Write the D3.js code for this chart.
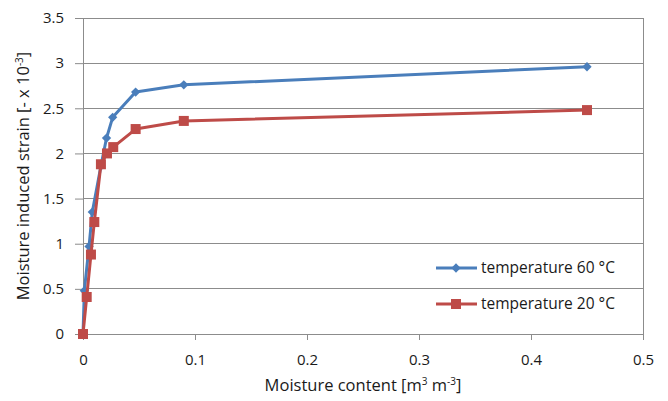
<!DOCTYPE html>
<html>
<head>
<meta charset="utf-8">
<script src="https://cdn.jsdelivr.net/npm/d3@7"></script>
<style>
  body { margin: 0; background: #fff; }
  text { font-family: "Open Sans", "Noto Sans", sans-serif; fill: #1a1a1a; }
</style>
</head>
<body>
<div id="chart"></div>
<script>
// moisture content [m3 m-3] and strain [- x 10^-3]
const moist60 = [0, 0.0012, 0.0054, 0.0083, 0.016, 0.021, 0.0265, 0.047, 0.09, 0.45];
const strain60 = [0, 0.48, 0.97, 1.35, 1.86, 2.17, 2.40, 2.68, 2.76, 2.96];
const moist20 = [0, 0.0033, 0.0071, 0.0101, 0.016, 0.0214, 0.027, 0.047, 0.09, 0.45];
const strain20 = [0, 0.41, 0.88, 1.24, 1.88, 2.00, 2.07, 2.27, 2.36, 2.48];
const seriesNames = ['temperature 60 °C', 'temperature 20 °C'];
const xTicks = [0, 0.1, 0.2, 0.3, 0.4, 0.5];
const yTicks = [0, 0.5, 1, 1.5, 2, 2.5, 3, 3.5];

const width = 668, height = 401;
const margin = { left: 83, right: 25, top: 18, bottom: 67 };

const svg = d3.select('#chart').append('svg')
  .attr('width', width)
  .attr('height', height);

const x = d3.scaleLinear().domain([0, 0.5]).range([margin.left, width - margin.right]);
const y = d3.scaleLinear().domain([0, 3.5]).range([height - margin.bottom, margin.top]);

// gridlines
svg.append('g')
  .selectAll('line')
  .data(yTicks)
  .enter().append('line')
  .attr('x1', x(0))
  .attr('x2', x(0.5))
  .attr('y1', d => y(d))
  .attr('y2', d => y(d))
  .attr('stroke', '#8c8c8c')
  .attr('stroke-width', 1)
  .attr('shape-rendering', 'crispEdges');

// right border
svg.append('line')
  .attr('x1', x(0.5)).attr('x2', x(0.5))
  .attr('y1', y(3.5)).attr('y2', y(0))
  .attr('stroke', '#8c8c8c')
  .attr('shape-rendering', 'crispEdges');

// x axis
const xAxis = svg.append('g')
  .attr('transform', `translate(0,${y(0)})`)
  .call(d3.axisBottom(x).tickValues(xTicks).tickFormat(d3.format('')).tickSize(6).tickPadding(14));
xAxis.select('.domain').attr('stroke', '#8c8c8c');
xAxis.selectAll('.tick line').attr('stroke', '#8c8c8c');
xAxis.selectAll('text').attr('font-size', 15).attr('fill', '#1a1a1a');

// y axis
const yAxis = svg.append('g')
  .attr('transform', `translate(${x(0)},0)`)
  .call(d3.axisLeft(y).tickValues(yTicks).tickFormat(d3.format('')).tickSize(8).tickPadding(11));
yAxis.select('.domain').attr('stroke', '#8c8c8c');
yAxis.selectAll('.tick line').attr('stroke', '#8c8c8c');
yAxis.selectAll('text').attr('font-size', 15).attr('fill', '#1a1a1a');

// axis titles
const xt = svg.append('text')
  .attr('x', 363)
  .attr('y', 391)
  .attr('text-anchor', 'middle')
  .attr('font-size', 16.5);
xt.append('tspan').text('Moisture content [m');
xt.append('tspan').attr('dy', -6).attr('font-size', 10).text('3');
xt.append('tspan').attr('dy', 6).text(' m');
xt.append('tspan').attr('dy', -6).attr('font-size', 10).text('-3');
xt.append('tspan').attr('dy', 6).text(']');

const yt = svg.append('text')
  .attr('transform', `translate(29,${(y(0) + y(3.5)) / 2}) rotate(-90)`)
  .attr('text-anchor', 'middle')
  .attr('font-size', 16.5);
yt.append('tspan').text('Moisture induced strain [- x 10');
yt.append('tspan').attr('dy', -6).attr('font-size', 10).text('-3');
yt.append('tspan').attr('dy', 6).text(']');

const line = d3.line().x(d => x(d[0])).y(d => y(d[1]));
const data60 = moist60.map((m, i) => [m, strain60[i]]);
const data20 = moist20.map((m, i) => [m, strain20[i]]);
const colors = ['#4a7ebb', '#be4b48'];

// 60 °C series with diamonds
svg.append('path')
  .datum(data60)
  .attr('d', line)
  .attr('fill', 'none')
  .attr('stroke', colors[0])
  .attr('stroke-width', 3)
  .attr('stroke-linejoin', 'round');
svg.append('g')
  .selectAll('path')
  .data(data60)
  .enter().append('path')
  .attr('d', d3.symbol().type(d3.symbolDiamond2).size(55))
  .attr('transform', d => `translate(${x(d[0])},${y(d[1])})`)
  .attr('fill', colors[0]);

// 20 °C series with squares
svg.append('path')
  .datum(data20)
  .attr('d', line)
  .attr('fill', 'none')
  .attr('stroke', colors[1])
  .attr('stroke-width', 3)
  .attr('stroke-linejoin', 'round');
svg.append('g')
  .selectAll('rect')
  .data(data20)
  .enter().append('rect')
  .attr('x', d => x(d[0]) - 5)
  .attr('y', d => y(d[1]) - 5)
  .attr('width', 10)
  .attr('height', 10)
  .attr('fill', colors[1]);

// legend
const legend = svg.append('g');
seriesNames.forEach((name, i) => {
  const ly = 268 + i * 36;
  legend.append('line')
    .attr('x1', 436).attr('x2', 477)
    .attr('y1', ly).attr('y2', ly)
    .attr('stroke', colors[i])
    .attr('stroke-width', 3);
  if (i === 0) {
    legend.append('path')
      .attr('d', d3.symbol().type(d3.symbolDiamond2).size(55))
      .attr('transform', `translate(456,${ly})`)
      .attr('fill', colors[i]);
  } else {
    legend.append('rect')
      .attr('x', 451).attr('y', ly - 5)
      .attr('width', 10).attr('height', 10)
      .attr('fill', colors[i]);
  }
  legend.append('text')
    .attr('x', 481)
    .attr('y', ly + 5)
    .attr('font-size', 15.5)
    .text(name);
});
</script>
</body>
</html>
